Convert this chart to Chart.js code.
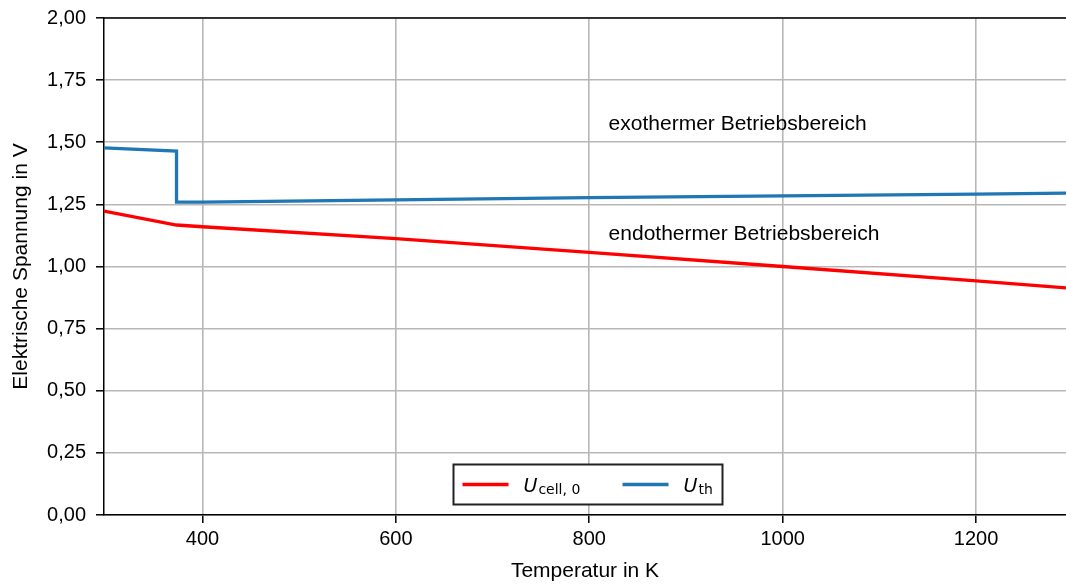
<!DOCTYPE html>
<html>
<head>
<meta charset="utf-8">
<script src="https://cdn.jsdelivr.net/npm/chart.js@4/dist/chart.umd.min.js"></script>
<style>
  html, body { margin: 0; padding: 0; background: #fff; }
  #wrap { width: 1066px; height: 584px; position: relative; }
</style>
</head>
<body>
<div id="wrap"><canvas id="chart"></canvas></div>
<script>
// Temperatures (K) and voltages (V)
const cellTemps = [298.15, 373.15, 400, 600, 800, 1000, 1200, 1293];
const cellVolts = [1.223, 1.167, 1.160, 1.112, 1.057, 1.000, 0.942, 0.914];

const thTemps = [298.15, 373.15, 373.15, 400, 600, 800, 1000, 1200, 1293];
const thVolts = [1.477, 1.464, 1.259, 1.259, 1.268, 1.277, 1.284, 1.291, 1.295];

const xTicks = [400, 600, 800, 1000, 1200];
const yTicks = [0, 0.25, 0.5, 0.75, 1.0, 1.25, 1.5, 1.75, 2.0];

const regionLabels = [
    { text: 'exothermer Betriebsbereich', x: 820, y: 1.573 },
    { text: 'endothermer Betriebsbereich', x: 820, y: 1.131 }
];

const RED = '#ff0000';
const BLUE = '#1f77b4';
const SANS = '"Liberation Sans", Arial, sans-serif';
const DEJAVU = '"DejaVu Sans", sans-serif';

function toPoints(xs, ys) {
    return xs.map((x, i) => ({ x: x, y: ys[i] }));
}

// top spine + annotation texts
const extrasPlugin = {
    id: 'extras',
    afterDatasetsDraw(chart) {
        const { ctx, chartArea, scales } = chart;
        ctx.save();
        ctx.strokeStyle = '#000';
        ctx.lineWidth = 1.5;
        ctx.beginPath();
        ctx.moveTo(chartArea.left, chartArea.top);
        ctx.lineTo(chartArea.right, chartArea.top);
        ctx.stroke();

        ctx.fillStyle = '#000';
        ctx.font = '21px ' + SANS;
        ctx.textBaseline = 'middle';
        ctx.textAlign = 'left';
        regionLabels.forEach(l => {
            ctx.fillText(l.text, scales.x.getPixelForValue(l.x), scales.y.getPixelForValue(l.y));
        });
        ctx.restore();
    }
};

// matplotlib-like legend with math subscripts
const legendPlugin = {
    id: 'mplLegend',
    afterDraw(chart) {
        const { ctx, chartArea } = chart;
        const w = 269, h = 40;
        const cx = (chartArea.left + chartArea.right) / 2;
        const x0 = Math.round(cx - w / 2) + 2.5;
        const y0 = chartArea.bottom - 11 - h + 0.5;
        ctx.save();
        ctx.fillStyle = '#fff';
        ctx.fillRect(x0, y0, w, h);
        ctx.strokeStyle = '#222';
        ctx.lineWidth = 2;
        ctx.strokeRect(x0, y0, w, h);

        const ym = y0 + h / 2;
        const items = [
            { color: RED, sub: 'cell, 0', dx: 9 },
            { color: BLUE, sub: 'th', dx: 169 }
        ];
        items.forEach(it => {
            ctx.strokeStyle = it.color;
            ctx.lineWidth = 3.3;
            ctx.beginPath();
            ctx.moveTo(x0 + it.dx, ym);
            ctx.lineTo(x0 + it.dx + 46, ym);
            ctx.stroke();

            ctx.fillStyle = '#000';
            ctx.textBaseline = 'alphabetic';
            ctx.textAlign = 'left';
            ctx.font = 'italic 19px ' + DEJAVU;
            const tx = x0 + it.dx + 61;
            ctx.fillText('U', tx, ym + 7);
            const uw = ctx.measureText('U').width;
            ctx.font = '14px ' + DEJAVU;
            ctx.fillText(it.sub, tx + uw + 1, ym + 9);
        });
        ctx.restore();
    }
};

new Chart(document.getElementById('chart'), {
    type: 'line',
    data: {
        datasets: [
            {
                label: 'U_cell,0',
                data: toPoints(cellTemps, cellVolts),
                borderColor: RED,
                borderWidth: 3.3,
                pointRadius: 0,
                tension: 0,
                fill: false
            },
            {
                label: 'U_th',
                data: toPoints(thTemps, thVolts),
                borderColor: BLUE,
                borderWidth: 3.3,
                pointRadius: 0,
                tension: 0,
                fill: false
            }
        ]
    },
    options: {
        responsive: true,
        maintainAspectRatio: false,
        animation: false,
        layout: { padding: { top: 18, right: 0, left: 0, bottom: 0 } },
        plugins: { legend: { display: false }, tooltip: { enabled: false } },
        scales: {
            x: {
                type: 'linear',
                min: 298.15,
                max: 1293,
                afterBuildTicks: axis => { axis.ticks = xTicks.map(v => ({ value: v })); },
                afterFit: axis => {
                    axis.height = 69;
                    axis.paddingLeft = 0;
                    axis.paddingRight = 0;
                },
                ticks: {
                    color: '#000',
                    font: { family: SANS, size: 20 },
                    padding: 4,
                    maxRotation: 0,
                    callback: v => String(v)
                },
                grid: { color: '#b7b7b7', lineWidth: 1.6, tickColor: '#000', tickLength: 8, tickWidth: 1.5 },
                border: { color: '#000', width: 1.5 },
                title: {
                    display: true,
                    text: 'Temperatur in K',
                    color: '#000',
                    font: { family: SANS, size: 21 },
                    padding: { top: 2, bottom: 0 }
                }
            },
            y: {
                min: 0,
                max: 2,
                afterBuildTicks: axis => { axis.ticks = yTicks.map(v => ({ value: v })); },
                afterFit: axis => {
                    axis.width = 104;
                    axis.paddingTop = 0;
                    axis.paddingBottom = 0;
                },
                ticks: {
                    color: '#000',
                    font: { family: SANS, size: 20 },
                    padding: 10,
                    callback: v => v.toFixed(2).replace('.', ',')
                },
                grid: { color: '#b7b7b7', lineWidth: 1.6, tickColor: '#000', tickLength: 8, tickWidth: 1.5 },
                border: { color: '#000', width: 1.5 },
                title: {
                    display: true,
                    text: 'Elektrische Spannung in V',
                    color: '#000',
                    font: { family: SANS, size: 21 },
                    padding: { top: 9, bottom: 0 }
                }
            }
        }
    },
    plugins: [extrasPlugin, legendPlugin]
});
</script>
</body>
</html>
